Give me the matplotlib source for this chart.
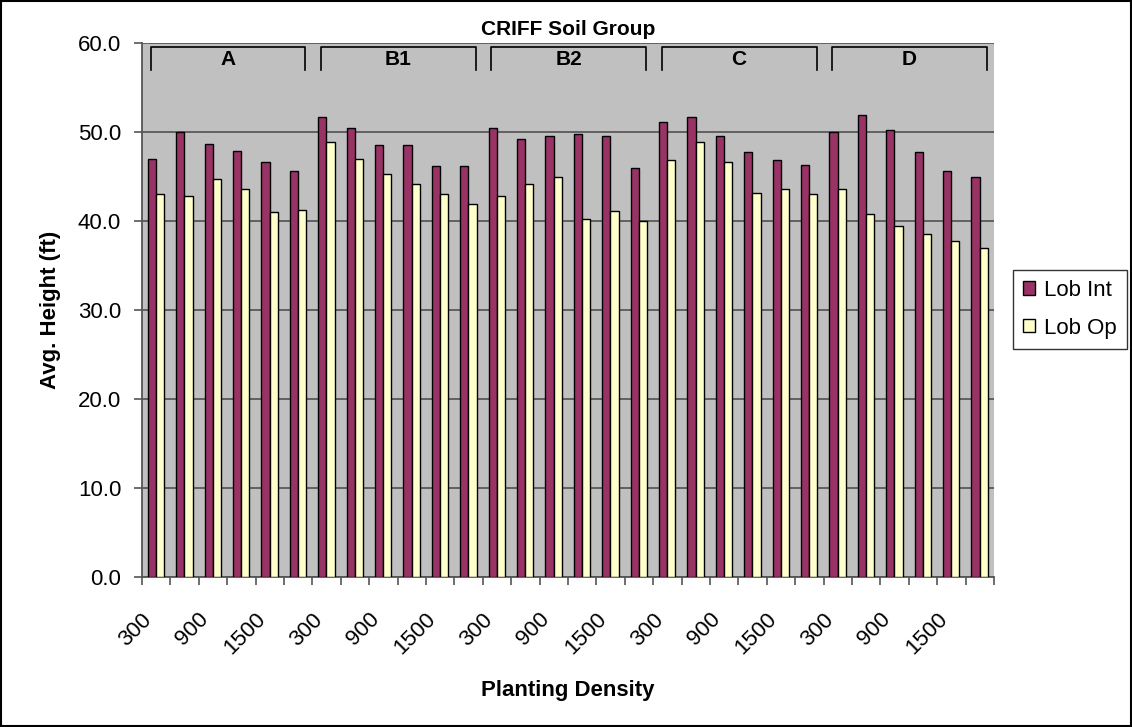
import matplotlib
matplotlib.use("Agg")
import matplotlib.pyplot as plt
from matplotlib.patches import Rectangle
from matplotlib.transforms import ScaledTranslation
import numpy as np

plt.rcParams['font.family'] = ['Liberation Sans', 'DejaVu Sans']

# ---- data ----
groups = ["A", "B1", "B2", "C", "D"]
densities = ["300", "600", "900", "1200", "1500", "1800"]
lob_int = [47.0, 50.0, 48.7, 47.9, 46.6, 45.6,
           51.7, 50.4, 48.5, 48.5, 46.2, 46.2,
           50.4, 49.2, 49.6, 49.8, 49.6, 45.9,
           51.1, 51.7, 49.6, 47.7, 46.8, 46.3,
           50.0, 51.9, 50.2, 47.7, 45.6, 44.9]
lob_op = [43.0, 42.8, 44.7, 43.6, 41.0, 41.2,
          48.9, 47.0, 45.3, 44.2, 43.0, 41.9,
          42.8, 44.2, 44.9, 40.2, 41.1, 40.0,
          46.8, 48.9, 46.6, 43.2, 43.6, 43.0,
          43.6, 40.8, 39.4, 38.5, 37.8, 37.0]
y_ticks = [0, 10, 20, 30, 40, 50, 60]

n = len(lob_int)
x = np.arange(n)
tick_labels = [densities[i % 6] if i % 2 == 0 else "" for i in range(n)]

W, H = 1132, 727
fig = plt.figure(figsize=(W / 100, H / 100), dpi=100)
ax = fig.add_axes([142 / W, 1 - 577 / H, (994 - 142) / W, (577 - 43) / H])
ax.set_facecolor("#C0C0C0")

w = 0.29
ax.bar(x - 0.15, lob_int, width=w, color="#993366", edgecolor="black",
       linewidth=1.0, label="Lob Int", zorder=3)
ax.bar(x + 0.14, lob_op, width=w, color="#FFFFCC", edgecolor="black",
       linewidth=1.0, label="Lob Op", zorder=3)

ax.set_xlim(-0.5, n - 0.5)
ax.set_ylim(0, 60)
ax.set_yticks(y_ticks)
ax.set_yticklabels([f"{v:.1f}" for v in y_ticks], fontsize=16)
ax.yaxis.grid(True, color="#5a5a5a", linewidth=1.3, zorder=1)
ax.set_axisbelow(True)

ax.set_xticks(np.arange(n + 1) - 0.5)
ax.set_xticklabels([])
ax.set_xticks(x, minor=True)
ax.set_xticklabels(tick_labels, minor=True, rotation=45, ha="right", va="top",
                   fontsize=16)
shift = ScaledTranslation(-11 / 100, 0, fig.dpi_scale_trans)
for lab in ax.get_xticklabels(minor=True):
    lab.set_transform(lab.get_transform() + shift)
ax.tick_params(axis="x", which="major", length=6, color="#555555", width=1.2)
ax.tick_params(axis="x", which="minor", length=0, pad=23)
ax.tick_params(axis="y", length=6, color="#555555", width=1.2, pad=9)

for s in ["top", "right"]:
    ax.spines[s].set_visible(False)
for s in ["left", "bottom"]:
    ax.spines[s].set_color("#555555")
    ax.spines[s].set_linewidth(1.3)

# group brackets
for g, name in enumerate(groups):
    x0 = g * 6 - 0.2
    x1 = g * 6 + 5.25
    ax.plot([x0, x0, x1, x1], [57.0, 59.5, 59.5, 57.0], color="black",
            linewidth=1.2, zorder=4, clip_on=False)
    ax.text((x0 + x1) / 2, 58.1, name, ha="center", va="center",
            fontsize=15, fontweight="bold", zorder=4)

ax.set_title("CRIFF Soil Group", fontsize=15, fontweight="bold", pad=6)
ax.set_ylabel("Avg. Height (ft)", fontsize=16, fontweight="bold", labelpad=12)
ax.set_xlabel("Planting Density", fontsize=16, fontweight="bold", labelpad=15)

leg = ax.legend(loc="upper left", bbox_to_anchor=(1013 / W, 1 - 270 / H),
                bbox_transform=fig.transFigure, fontsize=16, frameon=True,
                fancybox=False, edgecolor="black", handlelength=0.55,
                handleheight=0.55, handletextpad=0.4, borderpad=0.45,
                labelspacing=0.75, borderaxespad=0)
leg.get_frame().set_linewidth(1.0)

fig.patches.append(Rectangle((0.001, 0.001), 0.998, 0.998, transform=fig.transFigure,
                             fill=False, edgecolor="black", linewidth=1.5))

fig.savefig("out.png", dpi=100)
